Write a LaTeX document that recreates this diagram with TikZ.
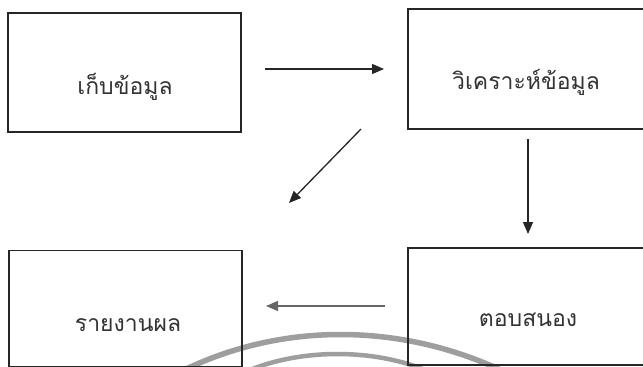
\documentclass[tikz,border=0pt]{standalone}
\usepackage{fontspec}
\newfontfamily\thaifont[Script=Thai]{Loma}
\usetikzlibrary{arrows.meta}
\begin{document}
\begin{tikzpicture}[x=1pt,y=-1pt,
  boxstyle/.style={draw=black!85,line width=1.4pt,rectangle,inner sep=0pt},
  txt/.style={font=\thaifont\fontsize{23}{26}\selectfont,text=black!80},
  arr/.style={line width=1.3pt,draw=black!85,-{Triangle[length=12pt,width=10pt]}},
  wm/.style={draw=black!38,line cap=round}]
\useasboundingbox (0,0) rectangle (643,367);
\clip (0,0) rectangle (643,367);
\fill[white] (0,0) rectangle (643,367);
% watermark arcs
\draw[wm,line width=5.5pt] (180,372) .. controls (280,322) and (400,322) .. (505,372);
\draw[wm,line width=4.5pt] (245,372) .. controls (300,348) and (375,348) .. (430,372);
% boxes
\node[boxstyle,minimum width=233pt,minimum height=119pt] (b1) at (124.5,72.5) {};
\node[boxstyle,minimum width=250pt,minimum height=120pt] (b2) at (533,69) {};
\node[boxstyle,minimum width=233pt,minimum height=116pt] (b3) at (125.5,308.5) {};
\node[boxstyle,minimum width=250pt,minimum height=117pt] (b4) at (533,306.5) {};
% texts
\node[txt] (t1) at (125,87) {เก็บข้อมูล};
\node[txt] (t2) at (526,82) {วิเคราะห์ข้อมูล};
\node[txt] (t3) at (128,325) {รายงานผล};
\node[txt] (t4) at (528,320) {ตอบสนอง};
% arrow ends
\coordinate (a1s) at (265,69);
\coordinate (a1e) at (384,69);
\coordinate (a2s) at (361,129);
\coordinate (a2e) at (289,203);
\coordinate (a3s) at (528,139);
\coordinate (a3e) at (528,234);
\coordinate (a4s) at (385,306);
\coordinate (a4e) at (266,306);
\draw[arr] (a1s) -- (a1e);
\draw[arr] (a2s) -- (a2e);
\draw[arr] (a3s) -- (a3e);
\draw[arr,draw=black!60] (a4s) -- (a4e);
\end{tikzpicture}
\end{document}
